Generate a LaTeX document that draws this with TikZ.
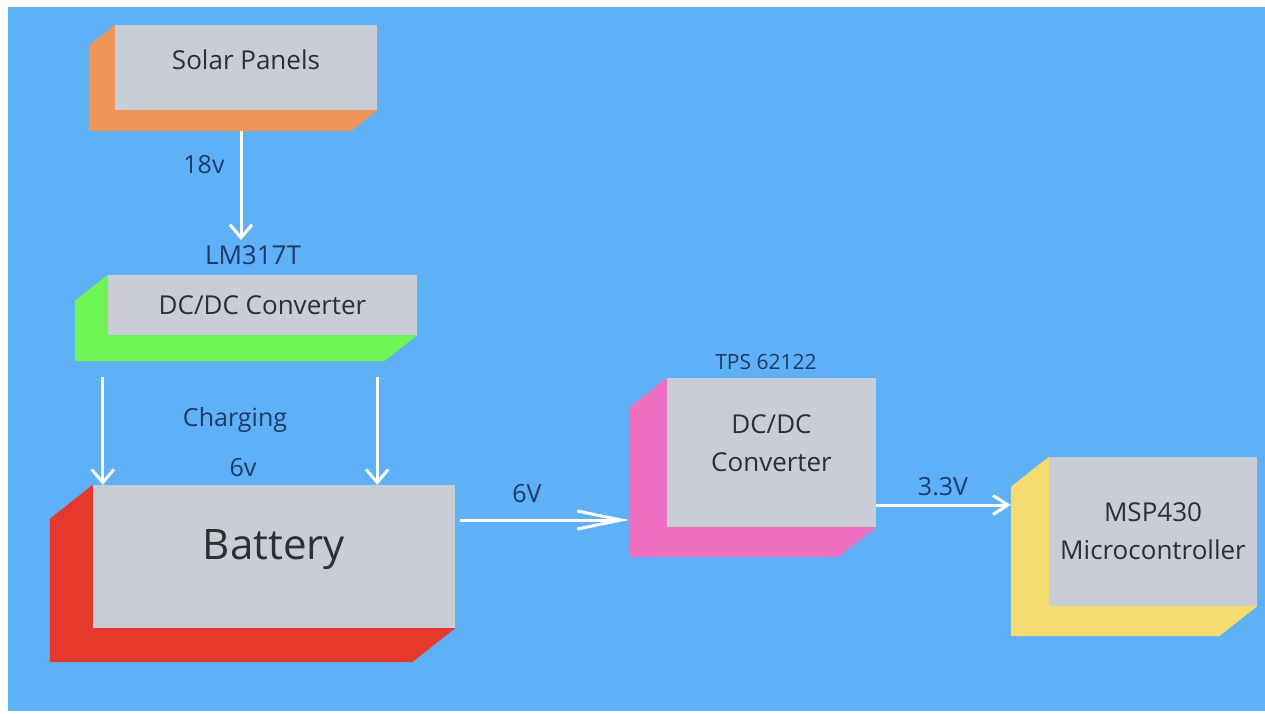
\documentclass[tikz,border=0pt]{standalone}
\usepackage{fontspec}
\setmainfont{Open Sans}
\usepackage{xcolor}
\usepackage{tikz}
\usetikzlibrary{arrows.meta,positioning,calc}
\definecolor{skyblue}{HTML}{5EB1F7}
\definecolor{facegray}{HTML}{C9CED6}
\definecolor{facetext}{HTML}{2E2E33}
\definecolor{labelnavy}{HTML}{1E3A68}
\definecolor{solarorange}{HTML}{F0955A}
\definecolor{convgreen}{HTML}{6EF553}
\definecolor{battred}{HTML}{E6392E}
\definecolor{tpspink}{HTML}{EC6FC0}
\definecolor{mcuyellow}{HTML}{F6DC70}

% side face of a block: node, colour, dx, dy
\newcommand{\sideface}[4]{%
  \fill[#2] (#1.north west) -- ++(#3,#4) -- ([shift={(#3,#4)}]#1.south west)
    -- ([shift={(#3,#4)}]#1.south east) -- (#1.south east) -- (#1.south west) -- cycle;
  \coordinate (#1-side) at ([shift={(#3,#4)}]#1.west);
}

\begin{document}
\begin{tikzpicture}[x=1pt, y=-1pt,
    face/.style={rectangle, fill=facegray, text=facetext, inner sep=0pt, align=center,
        font=\fontsize{26}{38}\selectfont},
    lbl/.style={text=labelnavy, inner sep=0pt, font=\fontsize{25}{30}\selectfont},
    wire/.style={white, line width=3pt, -{Straight Barb[length=13pt,width=22pt]}}]
    \useasboundingbox (0,0) rectangle (1265,714);
    \fill[skyblue] (8,7) rectangle (1265,711);

    % Solar panels
    \node[face, minimum width=262, minimum height=85, text depth=16pt] (solar) at (246,67.5) {Solar Panels};
    \sideface{solar}{solarorange}{-26}{21}

    % LM317T converter
    \node[face, minimum width=309, minimum height=60] (conv1) at (262.5,305) {DC/DC Converter};
    \sideface{conv1}{convgreen}{-33}{26}
    \node[lbl, font=\fontsize{26}{30}\selectfont] (lm317) at (253,255) {LM317T};

    % Battery
    \node[face, minimum width=362, minimum height=143, text depth=24pt, font=\fontsize{42}{50}\selectfont]
        (battery) at (274,556.5) {Battery};
    \sideface{battery}{battred}{-43}{34}

    % TPS 62122 converter
    \node[face, minimum width=209, minimum height=149, text depth=18pt] (conv2) at (771.5,452.5) {DC/DC\\Converter};
    \sideface{conv2}{tpspink}{-38}{30}
    \node[lbl, font=\fontsize{21}{25}\selectfont] (tps) at (766,362) {TPS 62122};

    % MSP430
    \node[face, minimum width=208, minimum height=149] (msp) at (1153,531.5) {MSP430\\Microcontroller};
    \sideface{msp}{mcuyellow}{-38}{30}

    % Connections
    \draw[wire] ([shift={(-5,21)}]solar.south) -- ([shift={(-12,-15)}]lm317.center);
    \node[lbl] (v18) at (204,165) {18v};

    \coordinate (chl) at ([shift={(-5,42)}]conv1.south west);
    \coordinate (chr) at ([shift={(-40,42)}]conv1.south east);
    \draw[wire] (chl) -- (chl |- battery.north);
    \draw[wire] (chr) -- (chr |- battery.north);
    \node[lbl] (charging) at (235,420) {Charging};
    \node[lbl] (v6c) at (243,468) {6v};

    \draw[wire, -{Straight Barb[length=44pt,width=18pt]}]
        ([shift={(5,-36.5)}]battery.east) coordinate (b6) -- (b6 -| conv2-side);
    \node[lbl] (v6) at (527,494) {6V};

    \draw[wire, -{Straight Barb[length=15pt,width=19pt]}]
        ([shift={(0,52.5)}]conv2.east) coordinate (c33) -- (c33 -| msp-side);
    \node[lbl] (v33) at (943,487) {3.3V};
\end{tikzpicture}
\end{document}
